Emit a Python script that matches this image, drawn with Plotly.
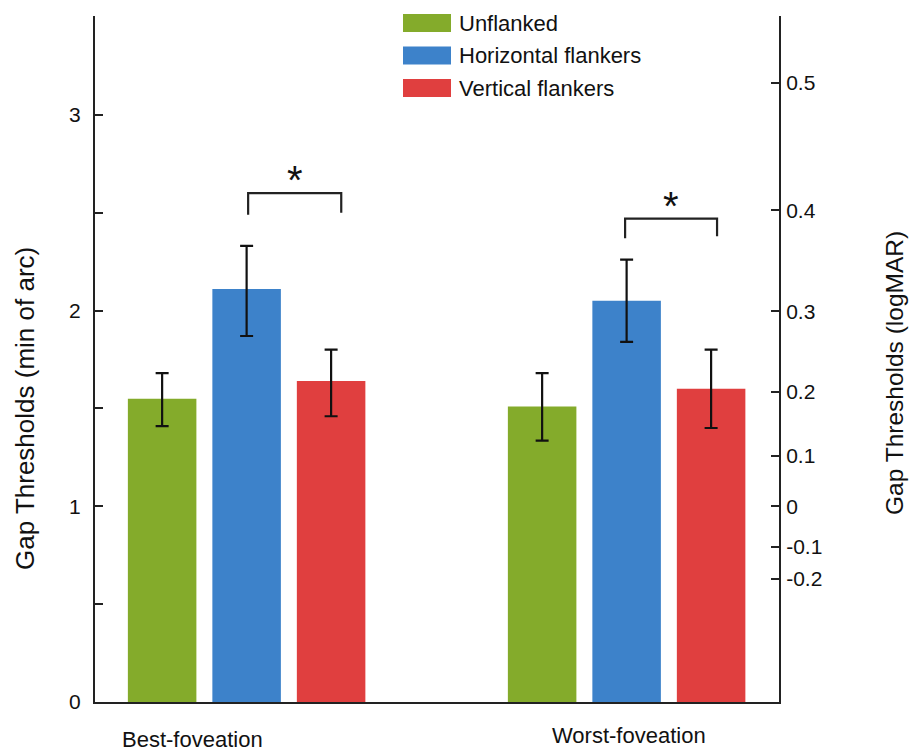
import numpy as np
import plotly.graph_objects as go

# ---- data ----
groups = ["Best-foveation", "Worst-foveation"]
group_pos = [0, 1]
series = ["Unflanked", "Horizontal flankers", "Vertical flankers"]
colors = ["#84AB2B", "#3D82CA", "#E03F3F"]

unflanked = [1.55, 1.51]
unflanked_hi = [1.68, 1.68]
unflanked_lo = [1.41, 1.335]

horizontal = [2.11, 2.05]
horizontal_hi = [2.33, 2.26]
horizontal_lo = [1.87, 1.84]

vertical = [1.64, 1.60]
vertical_hi = [1.80, 1.80]
vertical_lo = [1.46, 1.40]

left_ticks = [0, 0.5, 1, 1.5, 2, 2.5, 3]
left_ticktext = ["0", "", "1", "", "2", "", "3"]
logmar_ticks = [-0.2, -0.1, 0, 0.1, 0.2, 0.3, 0.4, 0.5]
logmar_ticktext = ["-0.2", "-0.1", "0", "0.1", "0.2", "0.3", "0.4", "0.5"]

left_title = "Gap Thresholds (min of arc)"
right_title = "Gap Thresholds (logMAR)"

# significance brackets (x in group units, y in min of arc)
sig_x0 = [0.004, 0.996]
sig_x1 = [0.249, 1.238]
sig_top = [2.60, 2.47]
sig_leg_left = [2.49, 2.37]
sig_leg_right = [2.50, 2.38]
sig_label = ["*", "*"]

FONT = "Liberation Sans, Arial, Helvetica, sans-serif"

PL, PT, PW, PH = 95, 16, 684, 686  # plot area in window pixels
W, H = 909, 752


def px_x(px):
    return (px - PL) / PW


def px_y(py):
    return (PT + PH - py) / PH


fig = go.Figure()
vals = [unflanked, horizontal, vertical]
his = [unflanked_hi, horizontal_hi, vertical_hi]
los = [unflanked_lo, horizontal_lo, vertical_lo]
for name, col, v, hi, lo in zip(series, colors, vals, his, los):
    v = np.array(v); hi = np.array(hi); lo = np.array(lo)
    fig.add_trace(go.Bar(
        x=group_pos, y=v, name=name, marker=dict(color=col, line=dict(width=0)),
        error_y=dict(type="data", symmetric=False, array=hi - v, arrayminus=v - lo,
                     color="#111111", thickness=2.2, width=6.5),
        showlegend=False,
    ))

# brackets
for x0, x1, top, ll, lr, lab in zip(sig_x0, sig_x1, sig_top, sig_leg_left, sig_leg_right, sig_label):
    fig.add_trace(go.Scatter(
        x=[x0, x0, x1, x1], y=[ll, top, top, lr], mode="lines",
        line=dict(color="#222222", width=2.2), showlegend=False, hoverinfo="skip"))
    fig.add_annotation(x=(x0 + x1) / 2, y=top, xref="x", yref="y", text=lab,
                       showarrow=False, yanchor="bottom", yshift=-11,
                       font=dict(family=FONT, size=40, color="#111111"))

# invisible trace to activate right axis
fig.add_trace(go.Scatter(x=[group_pos[0]], y=[0], yaxis="y2", mode="markers",
                         marker=dict(opacity=0), showlegend=False, hoverinfo="skip"))

# category labels
label_x = [-0.142, 1.005]
label_py = [739, 735]
for g, lx, py in zip(groups, label_x, label_py):
    fig.add_annotation(x=lx, y=px_y(py), xref="x", yref="paper", text=g,
                       showarrow=False, xanchor="center", yanchor="middle",
                       font=dict(family=FONT, size=22, color="#111111"))

# axis titles
fig.add_annotation(x=px_x(25), y=px_y(409), xref="paper", yref="paper", text=left_title,
                   textangle=-90, showarrow=False, xanchor="center", yanchor="middle",
                   font=dict(family=FONT, size=26, color="#111111"))
fig.add_annotation(x=px_x(894), y=px_y(373), xref="paper", yref="paper", text=right_title,
                   textangle=-90, showarrow=False, xanchor="center", yanchor="middle",
                   font=dict(family=FONT, size=24.5, color="#111111"))

# manual legend
leg_y = [23, 55.5, 88]
for name, col, py in zip(series, colors, leg_y):
    yp = px_y(py)
    h = 9 / PH
    fig.add_shape(type="rect", xref="paper", yref="paper",
                  x0=px_x(403), x1=px_x(451), y0=yp - h, y1=yp + h,
                  fillcolor=col, line=dict(width=0))
    fig.add_annotation(x=px_x(457), y=yp, xref="paper", yref="paper", text=name,
                       showarrow=False, xanchor="left", yanchor="middle",
                       font=dict(family=FONT, size=22, color="#111111"))

yr = [0, 3.505]
fig.update_layout(
    width=W, height=H,
    margin=dict(l=PL, r=W - PL - PW, t=PT, b=H - PT - PH),
    paper_bgcolor="white", plot_bgcolor="white",
    barmode="group", bargap=0.333, bargroupgap=0.189,
    font=dict(family=FONT, color="#111111"),
    xaxis=dict(range=[-0.399, 1.401], showticklabels=False, ticks="", showgrid=False,
               zeroline=False, showline=True, linecolor="#222222", linewidth=2),
    yaxis=dict(range=yr, tickvals=left_ticks, ticktext=left_ticktext, ticks="inside",
               ticklen=8, tickwidth=2, tickcolor="#222222", showgrid=False, zeroline=False,
               showline=True, linecolor="#222222", linewidth=2,
               tickfont=dict(size=21, family=FONT), ticklabelstandoff=8),
    yaxis2=dict(range=yr, overlaying="y", side="right", anchor="x",
                tickvals=[10 ** v for v in logmar_ticks], ticktext=logmar_ticktext,
                ticks="inside", ticklen=8, tickwidth=2, tickcolor="#222222",
                showgrid=False, zeroline=False, showline=True, linecolor="#222222",
                linewidth=2, tickfont=dict(size=21, family=FONT), ticklabelstandoff=1),
)

fig.write_html("out.html", config={"displayModeBar": False},
               post_script="document.body.style.margin='0';document.body.style.overflow='hidden';")
